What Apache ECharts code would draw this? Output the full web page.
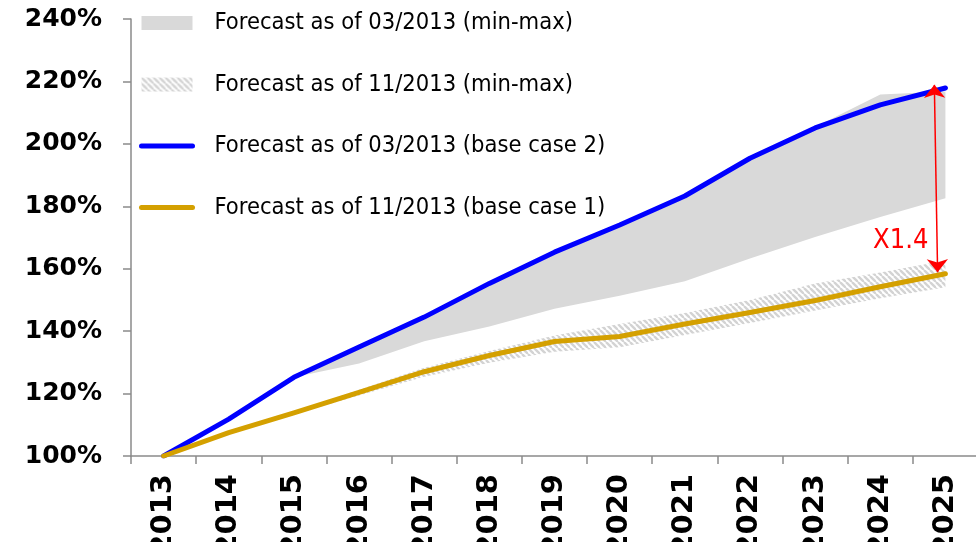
<!DOCTYPE html>
<html>
<head>
<meta charset="utf-8">
<script src="https://cdn.jsdelivr.net/npm/echarts@6/dist/echarts.min.js"></script>
<style>
  html, body { margin: 0; padding: 0; background: #ffffff; }
  #chart { width: 976px; height: 542px; }
</style>
</head>
<body>
<div id="chart"></div>
<script>
// Years on the horizontal axis
const years = ['2013', '2014', '2015', '2016', '2017', '2018', '2019',
               '2020', '2021', '2022', '2023', '2024', '2025'];

// Vertical axis range (index, % of 2013)
const yMin = 100;
const yMax = 240;
const yStep = 20;

// Base case lines
const baseCase2 = [100, 111.8, 125.2, 134.9, 144.5, 155.3, 165.3, 174.0, 183.3, 195.4, 205.1, 212.5, 217.9];
const baseCase1 = [100, 107.5, 113.8, 120.4, 127.0, 132.2, 136.7, 138.3, 142.3, 146.0, 149.8, 154.2, 158.4];

// Forecast ranges (min / max)
const range03Min = ['-', '-', 125.2, 129.6, 136.8, 141.5, 147.2, 151.3, 156.0, 163.3, 170.2, 176.6, 182.6];
const range03Max = ['-', '-', 125.2, 135.4, 145.0, 155.6, 165.6, 174.3, 183.6, 195.7, 205.4, 215.8, 216.8];
const range11Min = [100, 107.2, 113.4, 119.4, 125.4, 129.9, 133.4, 134.8, 138.8, 142.6, 146.6, 150.5, 154.1];
const range11Max = [100, 107.8, 114.2, 121.2, 128.3, 133.6, 138.6, 142.3, 145.8, 150.0, 155.3, 158.8, 162.6];

const names = {
  r03: 'Forecast as of 03/2013 (min-max)',
  r11: 'Forecast as of 11/2013 (min-max)',
  b2: 'Forecast as of 03/2013 (base case 2)',
  b1: 'Forecast as of 11/2013 (base case 1)'
};

const BLUE = '#0000ff';
const GOLD = '#d4a000';
const BAND = '#d9d9d9';
const RED = '#ff0000';
const AXIS = '#8a8a8a';
const legendFont = '"DejaVu Sans Condensed", "Liberation Sans", sans-serif';

// Diagonal hatch used for the 11/2013 range
function hatchPattern() {
  const s = 6;
  const c = document.createElement('canvas');
  c.width = s; c.height = s;
  const g = c.getContext('2d');
  g.strokeStyle = '#d3d3d3';
  g.lineWidth = 2.4;
  for (const k of [-s, 0, s]) {
    g.beginPath();
    g.moveTo(k, 0);
    g.lineTo(k + s, s);
    g.stroke();
  }
  return { image: c, repeat: 'repeat' };
}
const hatch = hatchPattern();

const diff = (hi, lo) => hi.map((v, i) => (v === '-' || lo[i] === '-') ? '-' : +(v - lo[i]).toFixed(2));

// Ratio between the two base cases in the final year
const last = years.length - 1;
const ratioText = 'X' + (baseCase2[last] / baseCase1[last]).toFixed(1);
const arrowX = last - 0.17;

const chart = echarts.init(document.getElementById('chart'), null, { renderer: 'canvas' });

chart.setOption({
  animation: false,
  backgroundColor: '#ffffff',
  grid: { left: 131, top: 19, width: 847, height: 437, containLabel: false, outerBoundsMode: 'none' },
  legend: {
    orient: 'vertical',
    left: 139,
    top: 11,
    padding: 0,
    itemWidth: 51,
    itemHeight: 14,
    itemGap: 37.5,
    selectedMode: false,
    textStyle: {
      color: '#000000',
      fontSize: 23.5,
      fontFamily: legendFont,
      lineHeight: 24,
      padding: [0, 0, 0, 17]
    },
    data: [
      { name: names.r03, icon: 'rect', itemStyle: { color: BAND } },
      { name: names.r11, icon: 'rect', itemStyle: { color: hatch } },
      { name: names.b2, itemStyle: { opacity: 0 }, lineStyle: { width: 5, cap: 'round', color: BLUE } },
      { name: names.b1, itemStyle: { opacity: 0 }, lineStyle: { width: 5, cap: 'round', color: GOLD } }
    ]
  },
  xAxis: [
    {
      type: 'category',
      data: years,
      boundaryGap: true,
      axisLine: { show: true, onZero: false, lineStyle: { color: AXIS, width: 1.5 } },
      axisTick: { show: true, length: 8, inside: false, lineStyle: { color: AXIS, width: 1.5 } },
      axisLabel: {
        interval: 0,
        rotate: 90,
        margin: 18,
        color: '#000000',
        fontSize: 29,
        fontWeight: 'bold',
        fontFamily: '"DejaVu Sans", sans-serif'
      },
      splitLine: { show: false }
    },
    {
      // hidden linear twin of the year axis, used to place the annotation
      type: 'value',
      min: -0.5,
      max: years.length - 0.5,
      show: false
    }
  ],
  yAxis: {
    type: 'value',
    min: yMin,
    max: yMax,
    interval: yStep,
    axisLine: { show: true, onZero: false, lineStyle: { color: AXIS, width: 1.5 } },
    axisTick: { show: true, length: 8, inside: false, lineStyle: { color: AXIS, width: 1.5 } },
    axisLabel: {
      formatter: '{value}%',
      margin: 29,
      color: '#000000',
      fontSize: 25,
      fontWeight: 'bold',
      fontFamily: '"DejaVu Sans", sans-serif'
    },
    splitLine: { show: false }
  },
  series: [
    {
      name: '03/2013 min',
      type: 'line',
      stack: 'r03',
      data: range03Min,
      symbol: 'none',
      silent: true,
      lineStyle: { width: 0, opacity: 0 },
      z: 1
    },
    {
      name: names.r03,
      type: 'line',
      stack: 'r03',
      data: diff(range03Max, range03Min),
      symbol: 'none',
      silent: true,
      lineStyle: { width: 0, opacity: 0 },
      areaStyle: { color: BAND, opacity: 1 },
      z: 1
    },
    {
      name: '11/2013 min',
      type: 'line',
      stack: 'r11',
      data: range11Min,
      symbol: 'none',
      silent: true,
      lineStyle: { width: 0, opacity: 0 },
      z: 2
    },
    {
      name: names.r11,
      type: 'line',
      stack: 'r11',
      data: diff(range11Max, range11Min),
      symbol: 'none',
      silent: true,
      lineStyle: { width: 0, opacity: 0 },
      areaStyle: { color: hatch, opacity: 1 },
      z: 2
    },
    {
      name: names.b2,
      type: 'line',
      data: baseCase2,
      symbol: 'none',
      color: BLUE,
      lineStyle: { color: BLUE, width: 5, cap: 'round', join: 'round' },
      z: 3
    },
    {
      name: names.b1,
      type: 'line',
      data: baseCase1,
      symbol: 'none',
      color: GOLD,
      lineStyle: { color: GOLD, width: 5, cap: 'round', join: 'round' },
      z: 4
    },
    {
      // double arrow and ratio label between the two base cases in 2025
      name: 'ratio',
      type: 'line',
      xAxisIndex: 1,
      data: [],
      silent: true,
      z: 5,
      markLine: {
        silent: true,
        symbol: ['arrow', 'arrow'],
        symbolSize: [16, 13],
        lineStyle: { color: RED, width: 1.5, type: 'solid' },
        label: { show: false },
        emphasis: { disabled: true },
        data: [[
          { coord: [arrowX, baseCase2[last] + 1] },
          { coord: [arrowX + 0.05, baseCase1[last] + 0.5] }
        ]]
      },
      markPoint: {
        silent: true,
        symbol: 'circle',
        symbolSize: 0,
        data: [{
          coord: [arrowX, 169],
          label: {
            show: true,
            position: 'left',
            distance: 6,
            formatter: ratioText,
            color: RED,
            fontSize: 27,
            fontFamily: legendFont
          }
        }]
      }
    }
  ]
});
</script>
</body>
</html>
